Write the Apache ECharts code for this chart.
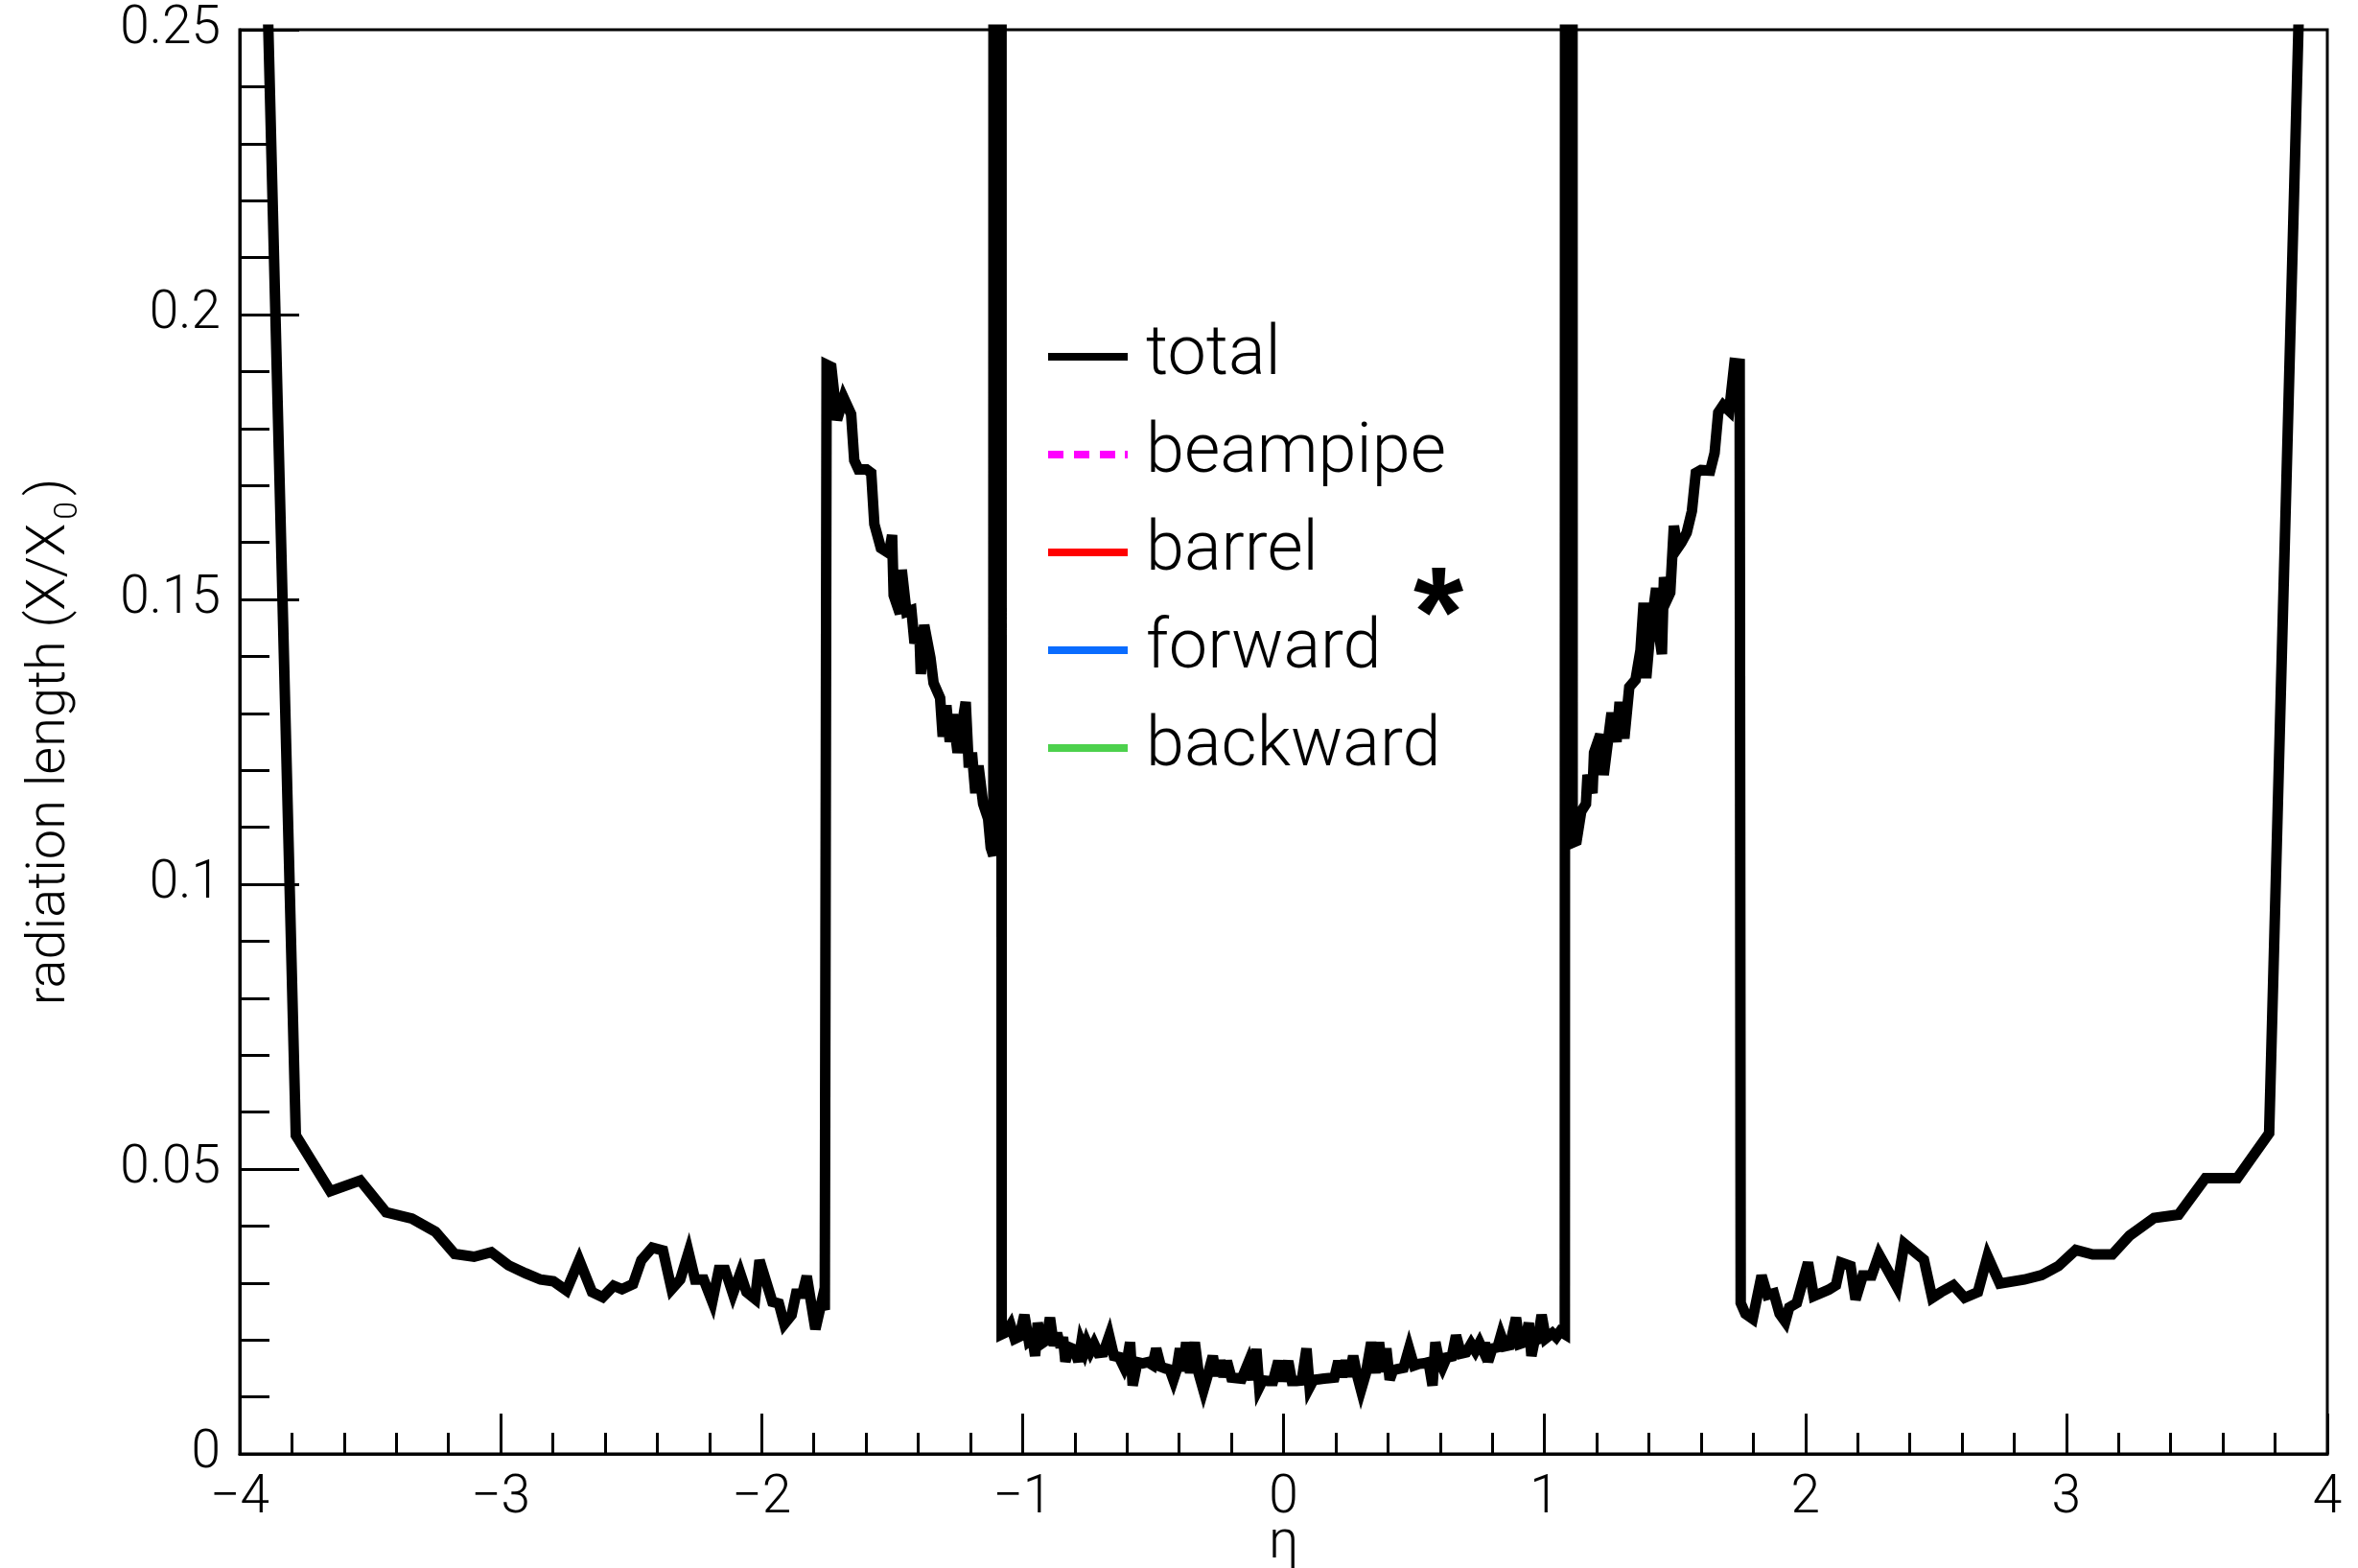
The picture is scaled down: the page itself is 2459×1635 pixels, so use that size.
<!DOCTYPE html>
<html>
<head>
<meta charset="utf-8">
<script src="https://cdn.jsdelivr.net/npm/echarts@6/dist/echarts.min.js"></script>
<style>
  html, body { margin: 0; padding: 0; background: #fff; }
  #chart { width: 2459px; height: 1635px; }
</style>
</head>
<body>
<div id="chart"></div>
<script>
// ---- data: [eta, X/X0] ----
const xTicks = [-4, -3, -2, -1, 0, 1, 2, 3, 4];
const yTicks = [0, 0.05, 0.1, 0.15, 0.2, 0.25];
const legendNames = ['total', 'beampipe', 'barrel', 'forward', 'backward'];

const totalNegEndcap = [
  [-3.950, 0.360], [-3.785, 0.0559], [-3.653, 0.0461], [-3.538, 0.0480], [-3.439, 0.0424],
  [-3.340, 0.0413], [-3.250, 0.0390], [-3.176, 0.0351], [-3.102, 0.0346], [-3.036, 0.0354],
  [-2.970, 0.0331], [-2.905, 0.0317], [-2.847, 0.0306], [-2.798, 0.0303], [-2.748, 0.0287],
  [-2.699, 0.0340], [-2.650, 0.0284], [-2.609, 0.0275], [-2.567, 0.0295], [-2.535, 0.0289],
  [-2.493, 0.0298], [-2.461, 0.0340], [-2.419, 0.0362], [-2.378, 0.0357], [-2.345, 0.0289],
  [-2.312, 0.0306], [-2.280, 0.0354], [-2.255, 0.0306], [-2.222, 0.0306], [-2.189, 0.0267],
  [-2.164, 0.0323], [-2.140, 0.0323], [-2.110, 0.0281], [-2.082, 0.0317], [-2.058, 0.0284],
  [-2.025, 0.0272], [-2.008, 0.0340], [-1.959, 0.0267], [-1.934, 0.0264], [-1.913, 0.0228],
  [-1.885, 0.0244], [-1.868, 0.0281], [-1.844, 0.0281], [-1.827, 0.0312], [-1.794, 0.0219],
  [-1.770, 0.0267], [-1.758, 0.0253]
];

const totalNegTransition = [
  [-1.751, 0.1912], [-1.733, 0.1908], [-1.711, 0.1815], [-1.686, 0.1854], [-1.657, 0.1825],
  [-1.645, 0.1744], [-1.629, 0.1728], [-1.598, 0.1728], [-1.580, 0.1722], [-1.568, 0.1632],
  [-1.543, 0.1590], [-1.512, 0.1581], [-1.500, 0.1613], [-1.494, 0.1507], [-1.470, 0.1475],
  [-1.463, 0.1552], [-1.445, 0.1478], [-1.426, 0.1481], [-1.414, 0.1423], [-1.396, 0.1450],
  [-1.390, 0.1369], [-1.377, 0.1455], [-1.353, 0.1397], [-1.341, 0.1353], [-1.316, 0.1327],
  [-1.306, 0.1259], [-1.292, 0.1314], [-1.279, 0.1250], [-1.267, 0.1298], [-1.249, 0.1231],
  [-1.218, 0.1320], [-1.206, 0.1205], [-1.194, 0.1231], [-1.181, 0.1160], [-1.169, 0.1208],
  [-1.151, 0.1141], [-1.132, 0.1115], [-1.122, 0.1064], [-1.112, 0.1050]
];

const totalNegSpike = [[-1.110, 0.60], [-1.082, 0.60]];

const totalCentral = [
  [-1.080, 0.0210], [-1.062, 0.0214], [-1.046, 0.0226], [-1.030, 0.0202], [-1.012, 0.0206],
  [-0.993, 0.0244], [-0.976, 0.0198], [-0.962, 0.0203], [-0.952, 0.0172], [-0.942, 0.0230],
  [-0.926, 0.0194], [-0.910, 0.0199], [-0.895, 0.0239], [-0.880, 0.0190], [-0.868, 0.0212],
  [-0.854, 0.0187], [-0.845, 0.0205], [-0.836, 0.0162], [-0.820, 0.0187], [-0.800, 0.0183],
  [-0.786, 0.0162], [-0.775, 0.0195], [-0.763, 0.0181], [-0.754, 0.0195], [-0.740, 0.0180],
  [-0.726, 0.0193], [-0.710, 0.0177], [-0.690, 0.0178], [-0.668, 0.0207], [-0.650, 0.0172],
  [-0.630, 0.0170], [-0.611, 0.0152], [-0.598, 0.0168], [-0.588, 0.0196], [-0.578, 0.0120],
  [-0.560, 0.0161], [-0.540, 0.0159], [-0.520, 0.0161], [-0.502, 0.0156], [-0.488, 0.0185],
  [-0.470, 0.0153], [-0.452, 0.0150], [-0.436, 0.0148], [-0.422, 0.0130], [-0.410, 0.0147],
  [-0.397, 0.0185], [-0.385, 0.0145], [-0.373, 0.0196], [-0.358, 0.0142], [-0.340, 0.0196],
  [-0.325, 0.0141], [-0.307, 0.0112], [-0.290, 0.0139], [-0.271, 0.0172], [-0.258, 0.0137],
  [-0.242, 0.0164], [-0.230, 0.0135], [-0.217, 0.0163], [-0.200, 0.0134], [-0.180, 0.0133],
  [-0.160, 0.0132], [-0.135, 0.0160], [-0.120, 0.0130], [-0.104, 0.0184], [-0.093, 0.0117],
  [-0.080, 0.0129], [-0.060, 0.0128], [-0.040, 0.0128], [-0.020, 0.0163], [-0.004, 0.0128],
  [0.018, 0.0163], [0.032, 0.0128], [0.050, 0.0128], [0.070, 0.0129], [0.088, 0.0185],
  [0.100, 0.0117], [0.115, 0.0130], [0.135, 0.0131], [0.155, 0.0132], [0.175, 0.0133],
  [0.195, 0.0134], [0.210, 0.0163], [0.225, 0.0135], [0.238, 0.0164], [0.252, 0.0136],
  [0.267, 0.0172], [0.282, 0.0138], [0.297, 0.0112], [0.315, 0.0140], [0.336, 0.0196],
  [0.352, 0.0142], [0.366, 0.0196], [0.380, 0.0144], [0.394, 0.0185], [0.407, 0.0130],
  [0.420, 0.0147], [0.440, 0.0149], [0.460, 0.0151], [0.481, 0.0185], [0.500, 0.0155],
  [0.520, 0.0158], [0.540, 0.0159], [0.556, 0.0161], [0.571, 0.0120], [0.582, 0.0196],
  [0.595, 0.0166], [0.609, 0.0152], [0.625, 0.0169], [0.645, 0.0171], [0.661, 0.0208],
  [0.680, 0.0176], [0.700, 0.0178], [0.719, 0.0193], [0.735, 0.0181], [0.751, 0.0195],
  [0.763, 0.0183], [0.772, 0.0195], [0.784, 0.0162], [0.800, 0.0185], [0.820, 0.0187],
  [0.833, 0.0208], [0.848, 0.0189], [0.868, 0.0191], [0.891, 0.0239], [0.905, 0.0193],
  [0.925, 0.0196], [0.940, 0.0230], [0.950, 0.0172], [0.962, 0.0199], [0.975, 0.0201],
  [0.989, 0.0244], [1.005, 0.0203], [1.030, 0.0212], [1.045, 0.0205], [1.060, 0.0215],
  [1.078, 0.0210]
];

const totalPosSpike = [[1.080, 0.60], [1.106, 0.60]];

const totalPosTransition = [
  [1.108, 0.1073], [1.123, 0.1076], [1.141, 0.1128], [1.159, 0.1141], [1.165, 0.1192],
  [1.184, 0.1160], [1.190, 0.1231], [1.214, 0.1263], [1.227, 0.1192], [1.257, 0.1301],
  [1.276, 0.1250], [1.288, 0.1320], [1.306, 0.1256], [1.325, 0.1346], [1.349, 0.1359],
  [1.368, 0.1411], [1.380, 0.1494], [1.390, 0.1362], [1.404, 0.1436], [1.428, 0.1520],
  [1.440, 0.1436], [1.450, 0.1404], [1.458, 0.1539], [1.470, 0.1500], [1.482, 0.1512],
  [1.496, 0.1629], [1.510, 0.1590], [1.525, 0.1600], [1.545, 0.1617], [1.565, 0.1655],
  [1.580, 0.1722], [1.600, 0.1727], [1.635, 0.1726], [1.652, 0.1757], [1.666, 0.1828],
  [1.685, 0.1841], [1.708, 0.1831], [1.728, 0.1915], [1.748, 0.1914]
];

const totalPosEndcap = [
  [1.752, 0.0265], [1.770, 0.0246], [1.798, 0.0237], [1.832, 0.0313], [1.854, 0.0279],
  [1.879, 0.0282], [1.901, 0.0246], [1.923, 0.0232], [1.938, 0.0257], [1.967, 0.0265],
  [2.010, 0.0336], [2.032, 0.0277], [2.089, 0.0288], [2.117, 0.0296], [2.136, 0.0336],
  [2.173, 0.0330], [2.192, 0.0271], [2.220, 0.0313], [2.254, 0.0313], [2.282, 0.0350],
  [2.351, 0.0293], [2.379, 0.0369], [2.454, 0.0341], [2.486, 0.0274], [2.520, 0.0284],
  [2.567, 0.0296], [2.610, 0.0274], [2.661, 0.0284], [2.698, 0.0347], [2.745, 0.0299],
  [2.839, 0.0306], [2.905, 0.0314], [2.970, 0.0330], [3.036, 0.0358], [3.101, 0.0350],
  [3.176, 0.0350], [3.242, 0.0383], [3.336, 0.0414], [3.430, 0.0420], [3.533, 0.0484],
  [3.655, 0.0484], [3.777, 0.0563], [3.950, 0.355]
];

const totalCurve = [].concat(totalNegEndcap, totalNegTransition, totalNegSpike,
  totalCentral, totalPosSpike, totalPosTransition, totalPosEndcap);

// ---- chart ----
const FONT = 'Roboto';
const chart = echarts.init(document.getElementById('chart'), null, { renderer: 'canvas' });

const dashIcon = 'path://M0,0h16v8h-16z M27,0h16v8h-16z M54,0h16v8h-16z M80,0h3v8h-3z';

const option = {
  animation: false,
  backgroundColor: '#ffffff',
  grid: {
    left: 250, right: 32, top: 31, bottom: 119,
    containLabel: false, outerBoundsMode: 'none',
    show: true, borderColor: '#000', borderWidth: 3, backgroundColor: 'transparent'
  },
  xAxis: {
    type: 'value', min: xTicks[0], max: xTicks[xTicks.length - 1], interval: 1,
    name: 'η', nameLocation: 'middle', nameGap: 66, nameMoveOverlap: false,
    nameTextStyle: { fontFamily: FONT, fontWeight: 300, fontSize: 56, color: '#000' },
    axisLine: { show: true, onZero: false, lineStyle: { color: '#000', width: 3 } },
    axisTick: { show: true, inside: true, length: 42, lineStyle: { color: '#000', width: 3 } },
    minorTick: { show: true, splitNumber: 5, length: 22, lineStyle: { color: '#000', width: 3 } },
    splitLine: { show: false },
    axisLabel: {
      fontFamily: FONT, fontWeight: 300, fontSize: 55, color: '#000', margin: 20,
      formatter: v => String(v).replace('-', '\u2212')
    }
  },
  yAxis: {
    type: 'value', min: yTicks[0], max: yTicks[yTicks.length - 1], interval: 0.05,
    name: '{a|radiation length (X/X}{s|0}{a|)}', nameLocation: 'middle', nameRotate: 90, nameGap: 162,
    nameMoveOverlap: false,
    nameTextStyle: {
      fontFamily: FONT, fontWeight: 300, fontSize: 56, color: '#000',
      rich: {
        a: { fontFamily: FONT, fontWeight: 300, fontSize: 56, lineHeight: 70, color: '#000' },
        s: { fontFamily: FONT, fontWeight: 300, fontSize: 34, lineHeight: 34, color: '#000',
             verticalAlign: 'bottom', padding: [60, 6, 0, 4] }
      }
    },
    axisLine: { show: true, onZero: false, lineStyle: { color: '#000', width: 3 } },
    axisTick: { show: true, inside: true, length: 62, lineStyle: { color: '#000', width: 3 } },
    minorTick: { show: true, splitNumber: 5, length: 31, lineStyle: { color: '#000', width: 3 } },
    splitLine: { show: false },
    axisLabel: { fontFamily: FONT, fontWeight: 300, fontSize: 55, color: '#000', margin: 20 }
  },
  legend: {
    orient: 'vertical', left: 1093, top: 332, padding: 0,
    itemWidth: 83, itemHeight: 8, itemGap: 22, selectedMode: false,
    textStyle: { fontFamily: FONT, fontWeight: 300, fontSize: 72, lineHeight: 80, color: '#000',
                 padding: [0, 0, 0, 14] },
    data: [
      { name: legendNames[0], icon: 'rect' },
      { name: legendNames[1], icon: dashIcon },
      { name: legendNames[2], icon: 'rect' },
      { name: legendNames[3], icon: 'rect' },
      { name: legendNames[4], icon: 'rect' }
    ]
  },
  graphic: [{
    type: 'text', left: 1474, top: 580, z: 100,
    style: { text: '*', font: 'bold 134px "Liberation Sans"', fill: '#000' }
  }],
  series: [
    {
      name: legendNames[0], type: 'line', data: totalCurve, symbol: 'none', clip: true,
      lineStyle: { color: '#000', width: 11, join: 'miter', miterLimit: 4 },
      itemStyle: { color: '#000' }, z: 5, silent: true
    },
    { name: legendNames[1], type: 'line', data: [], symbol: 'none',
      lineStyle: { color: '#ff00ff', width: 8, type: [15, 11] }, itemStyle: { color: '#ff00ff' } },
    { name: legendNames[2], type: 'line', data: [], symbol: 'none',
      lineStyle: { color: '#ff0000', width: 8 }, itemStyle: { color: '#ff0000' } },
    { name: legendNames[3], type: 'line', data: [], symbol: 'none',
      lineStyle: { color: '#0a6cff', width: 8 }, itemStyle: { color: '#0a6cff' } },
    { name: legendNames[4], type: 'line', data: [], symbol: 'none',
      lineStyle: { color: '#4dd14d', width: 8 }, itemStyle: { color: '#4dd14d' } }
  ]
};
chart.setOption(option);
</script>
</body>
</html>
